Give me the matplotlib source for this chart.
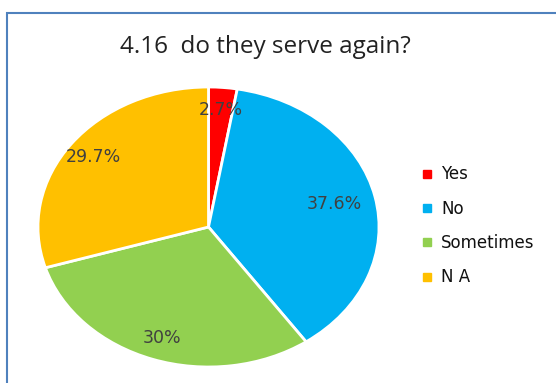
import matplotlib
matplotlib.use("Agg")
import matplotlib.pyplot as plt
from matplotlib.lines import Line2D
from matplotlib.patches import Rectangle

# data
labels = ["Yes", "No", "Sometimes", "N A"]
values = [2.7, 37.6, 30.0, 29.7]
colors = ["#FF0000", "#00B0F0", "#92D050", "#FFC000"]
title = "4.16  do they serve again?"

fig = plt.figure(figsize=(5.56, 3.83), dpi=100)
fig.patch.set_facecolor("white")

# blue frame of the chart area (cut off on the right and bottom)
fig.add_artist(Rectangle((7 / 556, -0.05), 1.2, 1 - 13 / 383 + 0.05,
                         transform=fig.transFigure, fill=False,
                         edgecolor="#4F81BD", linewidth=1.5))

# pie axes, stretched horizontally like the original
ax = fig.add_axes([38 / 556, 16 / 383, 341 / 556, 280 / 383])
wedges, texts, autotexts = ax.pie(
    values, colors=colors, startangle=90, counterclock=False,
    autopct=lambda p: "%g%%" % round(p, 1), pctdistance=0.84,
    wedgeprops=dict(edgecolor="white", linewidth=2),
    textprops=dict(color="#404040", fontsize=12.5, family="DejaVu Sans"))
# pull the "No" label a little towards the centre
x, y = autotexts[1].get_position()
autotexts[1].set_position((x * 0.9, y * 0.9))
ax.set_aspect("auto")
ax.set_xlim(-1, 1)
ax.set_ylim(-1, 1)
ax.axis("off")

# title
fig.text(265 / 556, 1 - 47 / 383, title, ha="center", va="center",
         fontsize=17.5, family="Open Sans", color="#222222")

# legend
handles = [Line2D([0], [0], marker="s", linestyle="none", markersize=6,
                  markerfacecolor=c, markeredgecolor=c) for c in colors]
leg = fig.legend(handles, labels, loc="center left",
                 bbox_to_anchor=(406 / 556, 1 - 226 / 383), frameon=False,
                 prop=dict(family="DejaVu Sans", size=12),
                 labelspacing=0.98, handlelength=0.7, handletextpad=0.5)
for t in leg.get_texts():
    t.set_color("#111111")

plt.savefig("out.png", dpi=100)
